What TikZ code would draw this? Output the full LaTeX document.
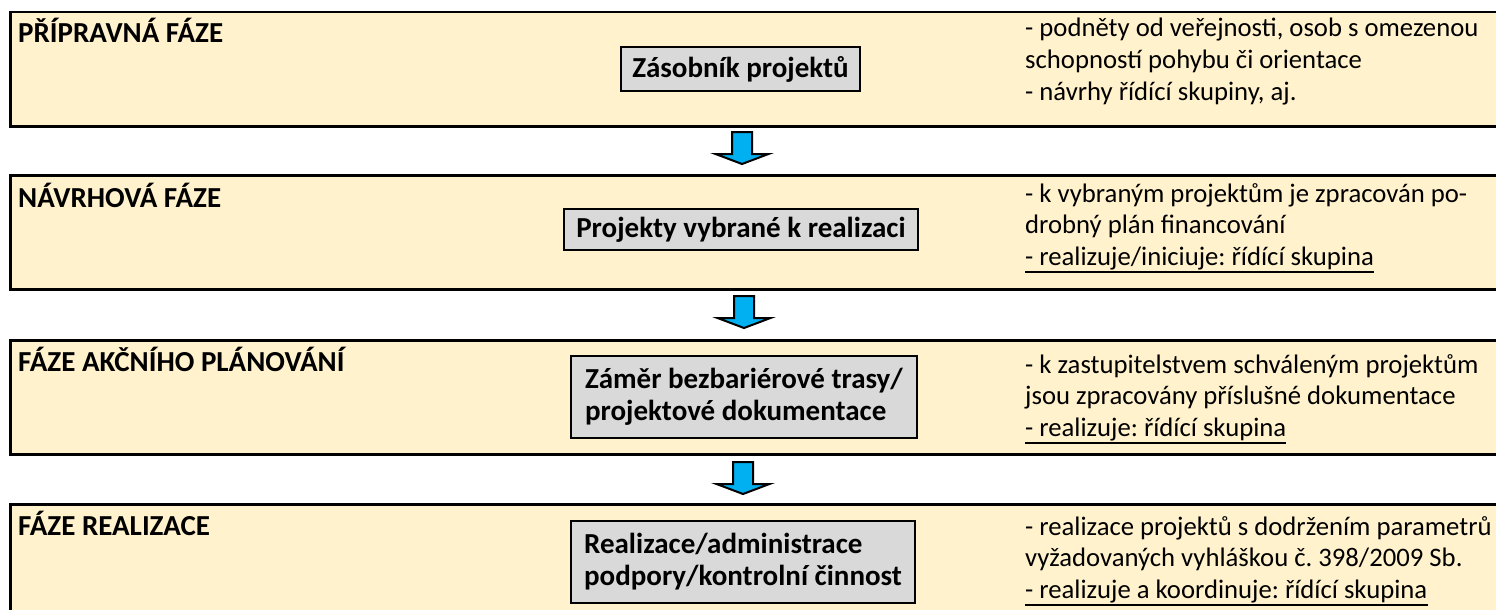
\documentclass[tikz,border=0pt]{standalone}
\usepackage{fontspec}
\setmainfont{Carlito}
\frenchspacing
\definecolor{panelfill}{HTML}{FFF2CC}
\definecolor{boxfill}{HTML}{D9D9D9}
\definecolor{arrowfill}{HTML}{00B0F0}
\begin{document}
\begin{tikzpicture}[x=1pt,y=-1pt,
 panel/.style={draw=black, line width=2.5pt, fill=panelfill, rectangle, anchor=north west, minimum width=1520pt, inner sep=0pt},
 stagebox/.style={draw=black, line width=2pt, fill=boxfill, font=\fontsize{29}{32}\selectfont\bfseries, inner sep=0pt, align=left},
 title/.style={font=\fontsize{29}{32}\selectfont\bfseries, anchor=base west, inner sep=0pt},
 note/.style={font=\fontsize{26.7}{31.5}\selectfont, anchor=base west, inner sep=0pt},
 blockarrow/.style={draw=black, line width=2pt, fill=arrowfill, line join=miter},
 uline/.style={line width=1.6pt}]
\useasboundingbox (0,0) rectangle (1496,610);
\clip (0,0) rectangle (1496,610);

% panels
\node[panel, minimum height=114pt] (p1) at (9,11) {};
\node[panel, minimum height=114pt] (p2) at (9,174) {};
\node[panel, minimum height=114pt] (p3) at (9,339) {};
\node[panel, minimum height=130pt] (p4) at (9,503) {};

% titles
\node[title] (h1) at (18,43) {PŘÍPRAVNÁ FÁZE};
\node[title] (h2) at (18,207) {NÁVRHOVÁ FÁZE};
\node[title] (h3) at (18,371) {FÁZE AKČNÍHO PLÁNOVÁNÍ};
\node[title] (h4) at (18,535) {FÁZE REALIZACE};

% central boxes
\node[stagebox, minimum width=239pt, minimum height=44pt] (b1) at (740.5,69) {Zásobník projektů};
\node[stagebox, minimum width=354pt, minimum height=41pt] (b2) at (741,229.5) {Projekty vybrané k realizaci};
\node[stagebox, minimum width=346pt, minimum height=82pt] (b3) at (744,397) {Záměr bezbariérové trasy/\\projektové dokumentace};
\node[stagebox, minimum width=344pt, minimum height=82pt] (b4) at (743,562) {Realizace/administrace\\podpory/kontrolní činnost};

% notes
\node[note] (n11) at (1025,37) {- podněty od veřejnosti, osob s omezenou};
\node[note] (n12) at (1025,68.5) {schopností pohybu či orientace};
\node[note] (n13) at (1025,100) {- návrhy řídící skupiny, aj.};

\node[note] (n21) at (1025,202) {- k vybraným projektům je zpracován po-};
\node[note] (n22) at (1025,233.5) {drobný plán financování};
\node[note] (n23) at (1025,265) {- realizuje/iniciuje: řídící skupina};

\node[note] (n31) at (1025,373) {- k zastupitelstvem schváleným projektům};
\node[note] (n32) at (1025,404.5) {jsou zpracovány příslušné dokumentace};
\node[note] (n33) at (1025,436) {- realizuje: řídící skupina};

\node[note] (n41) at (1025,535) {- realizace projektů s dodržením parametrů};
\node[note] (n42) at (1025,566.5) {vyžadovaných vyhláškou č. 398/2009 Sb.};
\node[note] (n43) at (1025,598) {- realizuje a koordinuje: řídící skupina};

\draw[uline] ([yshift=-7pt]n23.base west) -- ([yshift=-7pt]n23.base east);
\draw[uline] ([yshift=-7pt]n33.base west) -- ([yshift=-7pt]n33.base east);
\draw[uline] ([yshift=-7pt]n43.base west) -- ([yshift=-7pt]n43.base east);

% block arrows between phases
\coordinate (a1) at (742,132);
\coordinate (a2) at (744,296);
\coordinate (a3) at (743,462);
\foreach \a in {a1,a2,a3}
  \draw[blockarrow] (\a) +(-10,0) -- +(10,0) -- +(10,22) -- +(26.5,22) -- +(0,32) -- +(-26.5,22) -- +(-10,22) -- cycle;
\end{tikzpicture}
\end{document}
